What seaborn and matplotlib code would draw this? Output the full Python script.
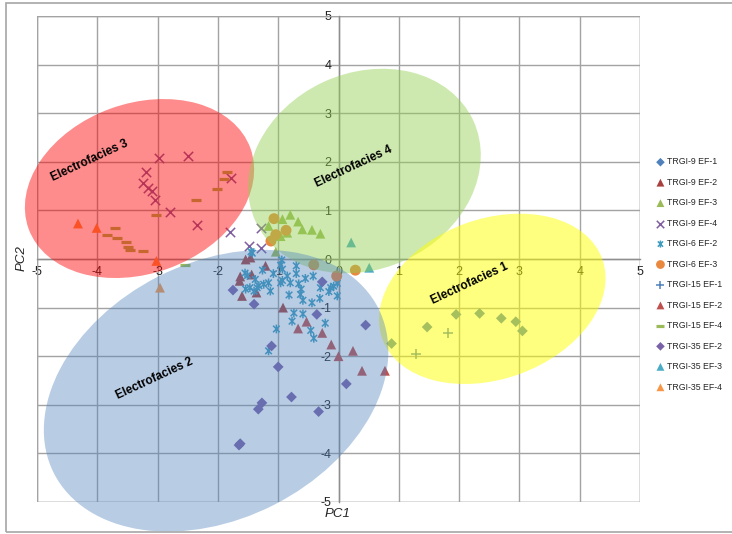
import numpy as np
import pandas as pd
import seaborn as sns
import matplotlib
matplotlib.use("Agg")
import matplotlib.pyplot as plt
from matplotlib.patches import Ellipse, Rectangle
from matplotlib.markers import MarkerStyle
from matplotlib.path import Path
from matplotlib.transforms import Affine2D, ScaledTranslation

# ---- principal component scores per well / electrofacies ----
trgi9_ef1_pc1 = [1.95, 2.34, 2.70, 2.94, 3.05, 1.47, 0.88]
trgi9_ef1_pc2 = [-1.14, -1.12, -1.22, -1.29, -1.48, -1.40, -1.74]

trgi9_ef2_pc1 = [-1.54, -1.46, -1.21, -1.44, -1.63, -1.64, -1.60, -1.36, -0.92]
trgi9_ef2_pc2 = [-0.01, 0.03, -0.14, -0.32, -0.36, -0.45, -0.76, -0.69, -1.00]

trgi9_ef3_pc1 = [-1.16, -0.93, -0.80, -0.67, -0.60, -0.44, -0.30, -0.96, -1.04, -0.85]
trgi9_ef3_pc2 = [0.68, 0.82, 0.91, 0.77, 0.61, 0.60, 0.52, 0.47, 0.15, 0.54]

trgi9_ef4_pc1 = [-2.98, -2.49, -3.19, -3.25, -3.16, -3.09, -3.05, -2.79, -2.34,
                 -1.78, -1.80, -1.49, -1.29, -1.29]
trgi9_ef4_pc2 = [2.07, 2.12, 1.78, 1.57, 1.47, 1.39, 1.21, 0.97, 0.69,
                 1.67, 0.56, 0.27, 0.63, 0.23]

trgi6_ef2_pc1 = [-1.45, -1.43, -1.55, -1.26, -0.94, -0.96, -0.93, -0.70, -0.70, -0.42,
                 -1.51, -1.38, -1.47, -1.35, -1.54, -1.40, -1.32, -1.24, -1.16, -1.13,
                 -0.96, -0.93, -0.80, -0.66, -0.82, -0.62, -0.63, -0.59, -0.44, -0.30,
                 -0.31, -0.16, -0.08, -0.02, -0.13, -0.02, -0.74, -0.59, -0.77, -1.03,
                 -0.46, -0.22, -0.41, -1.16, -1.08, -0.55, -0.85]
trgi6_ef2_pc2 = [0.15, 0.12, -0.29, -0.23, -0.02, -0.13, -0.21, -0.14, -0.30, -0.35,
                 -0.34, -0.42, -0.59, -0.59, -0.62, -0.66, -0.55, -0.52, -0.49, -0.66,
                 -0.49, -0.44, -0.49, -0.51, -0.74, -0.62, -0.73, -0.85, -0.90, -0.59,
                 -0.81, -0.67, -0.56, -0.76, -0.59, -0.50, -1.11, -1.13, -1.28, -1.44,
                 -1.47, -1.32, -1.63, -1.89, -0.30, -0.40, -0.35]

trgi6_ef3_pc1 = [-1.07, -0.87, -1.04, -1.12, -0.41, -0.03, 0.28]
trgi6_ef3_pc2 = [0.83, 0.59, 0.50, 0.37, -0.12, -0.35, -0.23]

trgi15_ef1_pc1 = [1.82, 1.28]
trgi15_ef1_pc2 = [-1.53, -1.96]

trgi15_ef2_pc1 = [-0.53, -0.67, -0.27, -0.12, 0.00, 0.24, 0.39, 0.77]
trgi15_ef2_pc2 = [-1.29, -1.43, -1.52, -1.76, -2.00, -1.89, -2.30, -2.30]

trgi15_ef4_pc1 = [-1.85, -1.90, -2.01, -2.37, -3.03, -3.71, -3.84, -3.68, -3.53,
                  -3.49, -3.45, -3.24, -2.55]
trgi15_ef4_pc2 = [1.78, 1.65, 1.45, 1.21, 0.91, 0.64, 0.49, 0.43, 0.35,
                  0.25, 0.19, 0.16, -0.13]

trgi35_ef2_pc1 = [-1.75, -1.40, -0.27, -0.36, 0.45, -1.11, -1.00, 0.13, -0.78,
                  -1.27, -1.33, -0.33, -1.63, -1.65]
trgi35_ef2_pc2 = [-0.64, -0.93, -0.47, -1.14, -1.36, -1.79, -2.22, -2.57, -2.84,
                  -2.96, -3.09, -3.14, -3.80, -3.83]

trgi35_ef3_pc1 = [0.21, 0.51]
trgi35_ef3_pc2 = [0.34, -0.18]

trgi35_ef4_pc1 = [-4.32, -4.01, -3.02, -2.96]
trgi35_ef4_pc2 = [0.73, 0.64, -0.04, -0.59]

axis_ticks = [-5, -4, -3, -2, -1, 0, 1, 2, 3, 4, 5]

# ---- marker styles ----
star_path = Path([(0, -1), (0, 1), (-0.75, -0.75), (0.75, 0.75), (-0.75, 0.75), (0.75, -0.75)],
                 [Path.MOVETO, Path.LINETO] * 3)
star_marker = MarkerStyle(star_path)

# name, pc1, pc2, marker, colour, size, kind
series = [
    ("TRGI-9 EF-1", trgi9_ef1_pc1, trgi9_ef1_pc2, "D", "#4F81BD", 30, "fill"),
    ("TRGI-9 EF-2", trgi9_ef2_pc1, trgi9_ef2_pc2, "^", "#A8413E", 50, "fill"),
    ("TRGI-9 EF-3", trgi9_ef3_pc1, trgi9_ef3_pc2, "^", "#9BBB59", 50, "fill"),
    ("TRGI-9 EF-4", trgi9_ef4_pc1, trgi9_ef4_pc2, "x", "#7F5FA0", 45, "line"),
    ("TRGI-6 EF-2", trgi6_ef2_pc1, trgi6_ef2_pc2, star_marker, "#3E9CBF", 40, "path"),
    ("TRGI-6 EF-3", trgi6_ef3_pc1, trgi6_ef3_pc2, "o", "#E9883F", 62, "fill"),
    ("TRGI-15 EF-1", trgi15_ef1_pc1, trgi15_ef1_pc2, "+", "#4F81BD", 50, "line"),
    ("TRGI-15 EF-2", trgi15_ef2_pc1, trgi15_ef2_pc2, "^", "#C0504D", 50, "fill"),
    ("TRGI-15 EF-4", trgi15_ef4_pc1, trgi15_ef4_pc2, "_", "#9BBB59", 50, "line"),
    ("TRGI-35 EF-2", trgi35_ef2_pc1, trgi35_ef2_pc2, "D", "#7A62A8", 30, "fill"),
    ("TRGI-35 EF-3", trgi35_ef3_pc1, trgi35_ef3_pc2, "^", "#4BACC6", 50, "fill"),
    ("TRGI-35 EF-4", trgi35_ef4_pc1, trgi35_ef4_pc2, "^", "#F79646", 50, "fill"),
]

# ---- electrofacies envelopes: centre (PC1, PC2), full axes (inches), tilt ----
facies_names = ["Electrofacies 3", "Electrofacies 4", "Electrofacies 1", "Electrofacies 2"]
facies_centre = [(-3.30, 1.45), (0.43, 1.81), (2.55, -0.82), (-2.03, -2.71)]
facies_axes_in = [(2.36, 1.70), (2.40, 1.96), (2.34, 1.60), (3.64, 2.56)]
facies_tilt = [20, 25, 20, 27]
facies_fill = [("#FF0000", 0.45), ("#92D050", 0.45), ("#FFFF00", 0.5), ("#4F81BD", 0.4)]
facies_label_pos = [(-4.13, 2.02), (0.25, 1.91), (2.17, -0.51), (-3.05, -2.47)]

sns.set_theme(style="white")
plt.rcParams["font.family"] = ["Liberation Sans", "DejaVu Sans"]
plt.rcParams["axes.unicode_minus"] = False

fig = plt.figure(figsize=(7.32, 5.34), dpi=100)
ax = fig.add_axes([37 / 732, 1 - 502 / 534, (640 - 37) / 732, (502 - 16) / 534])

for name, xs, ys, marker, color, size, kind in series:
    if kind == "fill":
        sns.scatterplot(x=xs, y=ys, marker=marker, color=color, s=size,
                        edgecolor="none", linewidth=0, label=name, ax=ax, zorder=3)
    elif kind == "path":
        sns.scatterplot(x=xs, y=ys, marker=marker, s=size, facecolor="none",
                        edgecolor=color, linewidth=1.1, label=name, ax=ax, zorder=3)
    else:
        lw = 2.3 if marker == "_" else 1.1
        sns.scatterplot(x=xs, y=ys, marker=marker, color=color, s=size,
                        linewidth=lw, label=name, ax=ax, zorder=3)

ax.set_xlim(-5, 5)
ax.set_ylim(-5, 5)
ax.set_xticks(axis_ticks)
ax.set_yticks(axis_ticks)
ax.set_xticklabels([str(t) for t in axis_ticks])
ax.set_yticklabels([str(t) for t in axis_ticks])
ax.set_axisbelow(True)
ax.grid(True, color="#A3A3A3", linewidth=1.0)
ax.set_facecolor("white")

grey = "#8E8E8E"
ax.spines["left"].set_position(("data", 0))
ax.spines["bottom"].set_position(("data", 0))
ax.spines["top"].set_visible(False)
ax.spines["right"].set_visible(False)
for side in ("left", "bottom"):
    ax.spines[side].set_color(grey)
    ax.spines[side].set_linewidth(1.0)
ax.tick_params(axis="both", which="major", labelsize=9, colors=grey, labelcolor="#222222",
               length=3, width=1, direction="out", pad=2)
ax.add_patch(Rectangle((0, 0), 1, 1, transform=ax.transAxes, fill=False,
                       edgecolor="#A3A3A3", linewidth=1.0, zorder=0.6))

# translucent envelopes laid over the scores
for name, (cx, cy), (w, h), tilt, (fc, a), (lx, ly) in zip(
        facies_names, facies_centre, facies_axes_in, facies_tilt, facies_fill, facies_label_pos):
    tr = (Affine2D().scale(w, h).rotate_deg(tilt) + fig.dpi_scale_trans
          + ScaledTranslation(cx, cy, ax.transData))
    ax.add_patch(Ellipse((0, 0), 1, 1, transform=tr, facecolor=fc, alpha=a,
                         edgecolor="none", clip_on=False, zorder=5))
    ax.text(lx, ly, name, rotation=25, rotation_mode="anchor", ha="center", va="center",
            fontsize=8.5, fontweight="bold", color="black", zorder=6)

handles, labels = ax.get_legend_handles_labels()
ax.legend(handles, labels, loc="upper left", bbox_to_anchor=(653 / 732, 1 - 154 / 534),
          bbox_transform=fig.transFigure, frameon=False, fontsize=6.3, handlelength=0.9,
          handletextpad=0.35, labelspacing=1.31, borderaxespad=0, markerscale=0.8)

fig.text(338 / 732, 1 - 514 / 534, "PC1", ha="center", va="center", fontsize=9.5, style="italic")
fig.text(22 / 732, 1 - 258 / 534, "PC2", ha="center", va="center", fontsize=9.5,
         style="italic", rotation=90)

fig.patches.append(Rectangle((6 / 732, 2 / 534), 1.0, 529 / 534, transform=fig.transFigure,
                             fill=False, edgecolor="#A6A6A6", linewidth=1.2, zorder=0))

fig.savefig("out.png", dpi=100)
